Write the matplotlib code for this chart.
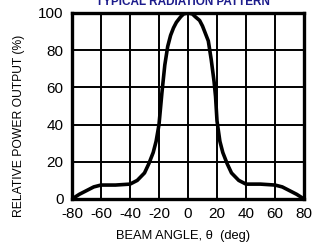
import matplotlib
matplotlib.use("Agg")
import matplotlib.pyplot as plt

plt.rcParams["font.family"] = ["Liberation Sans", "DejaVu Sans"]

# beam pattern
angle = [-80, -75, -70, -65, -60, -50, -40, -35, -30, -27, -24, -22, -20, -18, -16,
         -14, -12, -10, -8, -5, -3, 0, 3, 5, 8, 10, 12, 14, 15, 16, 18, 19, 20, 22,
         24, 27, 30, 35, 40, 50, 60, 65, 70, 75, 78, 80]
power = [0, 2.5, 4.5, 6.5, 7.5, 7.5, 8, 10, 14, 19, 25, 31, 40, 57, 72,
         82, 88, 92, 95, 98, 99.5, 100, 99.5, 98, 96, 93, 89, 85, 80, 75, 63, 55, 42, 31,
         25, 19, 14, 10, 8, 8, 7.5, 6.5, 4.5, 2.5, 1, 0]

xticks = [-80, -60, -40, -20, 0, 20, 40, 60, 80]
xticklabels = ["-80", "-60", "-40", "-20", "0", "20", "40", "60", "80"]
yticks = [0, 20, 40, 60, 80, 100]

fig = plt.figure(figsize=(3.15, 2.46), dpi=100)
ax = fig.add_axes([72 / 315, 1 - 199 / 246, 232 / 315, 186 / 246])

ax.plot(angle, power, color="black", linewidth=2.6, solid_capstyle="round",
        solid_joinstyle="round")
ax.set_xlim(-80, 80)
ax.set_ylim(0, 100)
ax.set_xticks(xticks)
ax.set_xticklabels(xticklabels)
ax.set_yticks(yticks)
ax.grid(True, color="black", linewidth=1.4)
ax.tick_params(length=0, labelsize=11, pad=6)
for s in ax.spines.values():
    s.set_linewidth(2.4)

fig.text(19 / 315, 1 - 126 / 246, "RELATIVE POWER OUTPUT (%)", rotation=90,
         ha="center", va="center", fontsize=8.7)
fig.text(183 / 315, 1 - 236 / 246, "BEAM ANGLE, θ  (deg)", ha="center",
         va="center", fontsize=9.3)
fig.text(183 / 315, 1 - 5 / 246, "TYPICAL RADIATION PATTERN", ha="center",
         va="baseline", fontsize=8.5, fontweight="bold", color="#1c1c8c")

fig.savefig("out.png", dpi=100)
